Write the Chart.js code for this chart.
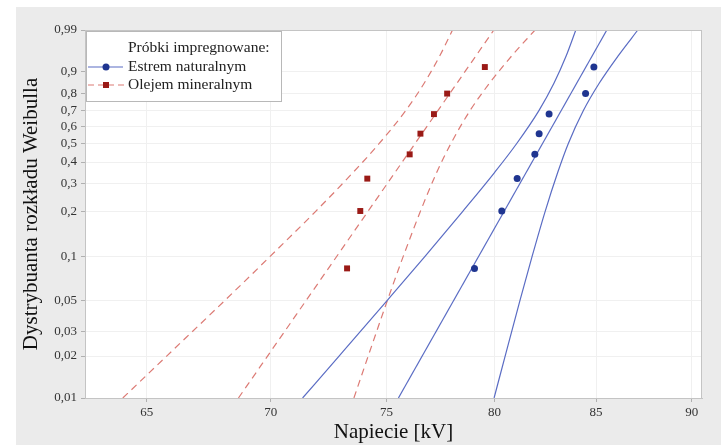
<!DOCTYPE html>
<html><head><meta charset="utf-8">
<script src="https://cdn.jsdelivr.net/npm/chart.js@4.4.0/dist/chart.umd.min.js"></script>
<style>html,body{margin:0;padding:0;background:#fff;}#wrap{width:721px;height:445px;}</style>
</head><body><div id="wrap"><canvas id="c" width="721" height="445"></canvas></div>
<script>
// ---- data ----
const xTicks = [65, 70, 75, 80, 85, 90];
const yTickProbs = [0.01, 0.02, 0.03, 0.05, 0.1, 0.2, 0.3, 0.4, 0.5, 0.6, 0.7, 0.8, 0.9, 0.99];
const rankProbs = [0.0833, 0.2024, 0.3214, 0.4405, 0.5595, 0.6786, 0.7976, 0.9167];
const esterKV = [79.05, 80.35, 81.09, 81.95, 82.16, 82.65, 84.47, 84.89];
const oilKV = [73.26, 73.84, 74.15, 76.05, 76.54, 77.16, 77.77, 79.54];
const fitProbs = [0.01, 0.99];
const esterFitKV = [75.54, 85.55];
const oilFitKV = [68.66, 79.97];
const boundProbs = [0.01, 0.02, 0.05, 0.1, 0.2, 0.35, 0.5, 0.7, 0.85, 0.95, 0.99];
const esterLowKV = [71.34, 72.91, 75.05, 76.73, 78.48, 80.01, 81.06, 82.15, 82.89, 83.50, 83.98];
const esterHighKV = [79.98, 80.51, 81.23, 81.81, 82.45, 83.08, 83.60, 84.36, 85.16, 86.13, 87.15];
const oilLowKV = [64.08, 65.78, 68.12, 69.95, 71.88, 73.53, 74.67, 75.87, 76.71, 77.43, 78.02];
const oilHighKV = [73.56, 74.19, 75.05, 75.75, 76.53, 77.29, 77.94, 78.84, 79.76, 80.83, 81.96];
const xTitle = 'Napiecie [kV]';
const yTitle = 'Dystrybuanta rozkładu Weibulla';
const legendTitle = 'Próbki impregnowane:';
const seriesNames = ['Estrem naturalnym', 'Olejem mineralnym'];

// Weibull probability scale
const W = p => Math.log(-Math.log(1 - p));
const pts = (kv, pr) => kv.map((v, i) => ({x: v, y: W(pr[i])}));

const BLUE_LINE = '#5a6cc4', BLUE_PT = '#1f3590';
const RED_LINE = '#dc7a74', RED_PT = '#9a1a16';
const SERIF = "'Liberation Serif', 'DejaVu Serif', serif";
Chart.defaults.font.family = SERIF;

const lineDs = (data, color, dash) => ({
  data, showLine: true, borderColor: color, borderWidth: 1.2, borderDash: dash,
  pointRadius: 0, fill: false, cubicInterpolationMode: 'monotone'
});

const bgPlugin = {
  id: 'bg',
  beforeDraw(chart) {
    const c = chart.ctx, a = chart.chartArea;
    c.save();
    c.fillStyle = '#ffffff'; c.fillRect(0, 0, 721, 445);
    c.fillStyle = '#ebebeb'; c.fillRect(16, 7, 705, 438);
    c.fillStyle = '#ffffff'; c.fillRect(a.left, a.top, a.right - a.left, a.bottom - a.top);
    c.restore();
  },
  afterDraw(chart) {
    const c = chart.ctx, a = chart.chartArea;
    c.save();
    c.strokeStyle = '#c4c4c4'; c.lineWidth = 1;
    c.strokeRect(a.left + 0.5, a.top + 0.5, a.right - a.left - 1, a.bottom - a.top);
    // legend
    const lx = a.left + 1, ly = a.top + 1, lw = 195, lh = 70;
    c.fillStyle = '#ffffff'; c.fillRect(lx, ly, lw, lh);
    c.strokeStyle = '#b8b8b8'; c.strokeRect(lx + 0.5, ly + 0.5, lw, lh);
    c.font = '15.5px ' + SERIF; c.fillStyle = '#222'; c.textBaseline = 'middle'; c.textAlign = 'left';
    c.fillText(legendTitle, 128, 48);
    c.fillText(seriesNames[0], 128, 67);
    c.fillText(seriesNames[1], 128, 85);
    c.lineWidth = 1.2;
    c.strokeStyle = BLUE_LINE; c.setLineDash([]);
    c.beginPath(); c.moveTo(88, 67); c.lineTo(123, 67); c.stroke();
    c.fillStyle = BLUE_PT; c.beginPath(); c.arc(106, 67, 3.5, 0, Math.PI * 2); c.fill();
    c.strokeStyle = RED_LINE; c.setLineDash([6, 4]);
    c.beginPath(); c.moveTo(88, 85); c.lineTo(124, 85); c.stroke();
    c.setLineDash([]);
    c.fillStyle = RED_PT; c.fillRect(103, 82, 6, 6);
    c.restore();
  }
};

new Chart(document.getElementById('c'), {
  type: 'scatter',
  data: {
    datasets: [
      {data: pts(esterKV, rankProbs), pointStyle: 'circle', pointRadius: 3.5, backgroundColor: BLUE_PT, borderColor: BLUE_PT, borderWidth: 0},
      {data: pts(oilKV, rankProbs), pointStyle: 'rect', pointRadius: 4.2, backgroundColor: RED_PT, borderColor: RED_PT, borderWidth: 0},
      lineDs(pts(esterFitKV, fitProbs), BLUE_LINE, []),
      lineDs(pts(esterLowKV, boundProbs), BLUE_LINE, []),
      lineDs(pts(esterHighKV, boundProbs), BLUE_LINE, []),
      lineDs(pts(oilFitKV, fitProbs), RED_LINE, [7, 5]),
      lineDs(pts(oilLowKV, boundProbs), RED_LINE, [7, 5]),
      lineDs(pts(oilHighKV, boundProbs), RED_LINE, [7, 5])
    ]
  },
  options: {
    responsive: false, animation: false,
    layout: {padding: {left: 16, top: 30, right: 19, bottom: 0}},
    plugins: {legend: {display: false}, tooltip: {enabled: false}},
    scales: {
      x: {
        type: 'logarithmic', min: 62.65, max: 90.55,
        afterBuildTicks: s => { s.ticks = xTicks.map(v => ({value: v})); },
        afterFit: s => { s.height = 47; },
        ticks: {callback: v => String(v), autoSkip: false, maxRotation: 0, padding: 3, font: {size: 13}, color: '#333'},
        grid: {color: '#f0f0f0', tickColor: '#b0b0b0', tickLength: 4},
        border: {color: '#c4c4c4'},
        title: {display: true, text: xTitle, font: {size: 21}, color: '#111', padding: {top: 0, bottom: 0}}
      },
      y: {
        type: 'linear', min: W(0.01), max: W(0.99),
        afterBuildTicks: s => { s.ticks = yTickProbs.map(p => ({value: W(p)})); },
        afterFit: s => { s.width = 69; },
        ticks: {
          autoSkip: false, padding: 4, font: {size: 13}, color: '#333',
          callback: v => {
            let best = yTickProbs[0];
            yTickProbs.forEach(p => { if (Math.abs(W(p) - v) < Math.abs(W(best) - v)) best = p; });
            return String(best).replace('.', ',');
          }
        },
        grid: {color: '#f0f0f0', tickColor: '#b0b0b0', tickLength: 4},
        border: {color: '#c4c4c4'},
        title: {display: true, text: yTitle, font: {size: 21}, color: '#111', padding: {top: 3, bottom: 0}}
      }
    }
  },
  plugins: [bgPlugin]
});
</script></body></html>
